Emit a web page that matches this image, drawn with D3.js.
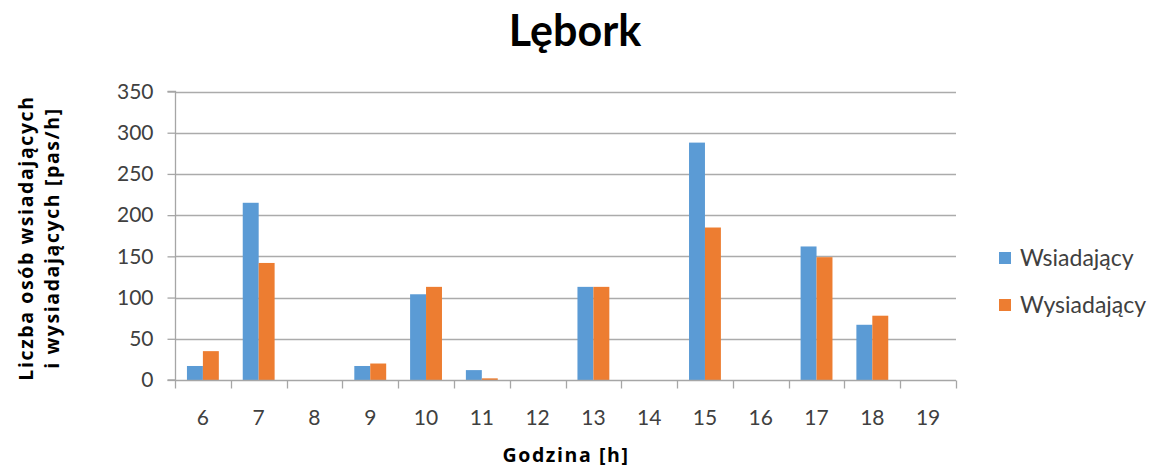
<!DOCTYPE html>
<html><head><meta charset="utf-8">
<script src="https://cdn.jsdelivr.net/npm/d3@7"></script>
<style>body{margin:0;background:#fff}svg{display:block}</style>
</head><body>
<svg id="c" width="1158" height="468"></svg>
<script>
const categories = ["6","7","8","9","10","11","12","13","14","15","16","17","18","19"];
const wsiadajacy = [17,215,0,17,104,12,0,113,0,288,0,162,67,0];
const wysiadajacy = [35,142,0,20,113,2,0,113,0,185,0,149,78,0];
const seriesNames = ["Wsiadający","Wysiadający"];
const colors = ["#5B9BD5","#ED7D31"];
const yTicks = [0,50,100,150,200,250,300,350];

const svg = d3.select("#c");
const font = "Lato, 'Open Sans', sans-serif";
const boldFont = "'Open Sans', Lato, sans-serif";
const L = 175, R = 956, T = 91.5, B = 380;

const x = d3.scaleBand().domain(categories).range([L, R]).paddingInner(0).paddingOuter(0);
const y = d3.scaleLinear().domain([0, 350]).range([B, T]);

// gridlines
svg.append("g").selectAll("line").data(yTicks.filter(d=>d>0)).join("line")
  .attr("x1", L).attr("x2", R).attr("y1", d=>Math.round(y(d))+0.5).attr("y2", d=>Math.round(y(d))+0.5)
  .attr("stroke", "#ababab").attr("stroke-width", 1.3);

// bars
const bw = x.bandwidth()/1.75/2;
const series = [wsiadajacy, wysiadajacy];
series.forEach((vals, si) => {
  svg.append("g").selectAll("rect").data(categories).join("rect")
    .attr("x", (c)=> x(c) + x.bandwidth()/2 - bw + si*bw)
    .attr("width", bw)
    .attr("y", (c,i)=> y(vals[i]))
    .attr("height", (c,i)=> B - y(vals[i]))
    .attr("fill", colors[si]);
});

// y axis
const yAxis = d3.axisLeft(y).tickValues(yTicks).tickSize(8).tickPadding(14);
const gy = svg.append("g").attr("transform", `translate(${L+0.5},0)`).call(yAxis);
gy.select(".domain").attr("stroke","#a6a6a6").attr("stroke-width",1.3).attr("d", `M-8,${B}H0V${T}H-8`);
gy.selectAll(".tick line").attr("stroke","#a6a6a6").attr("stroke-width",1.3);
gy.selectAll(".tick text").attr("font-family", font).attr("font-size", 21).attr("fill","#404040");

// x axis
const xAxis = d3.axisBottom(x).tickSize(0).tickPadding(30);
const gx = svg.append("g").attr("transform", `translate(0,${B+0.5})`).call(xAxis);
gx.select(".domain").attr("stroke","#a6a6a6").attr("stroke-width",1.3).attr("d", `M${L},0H${R}`);
gx.selectAll(".tick text").attr("font-family", font).attr("font-size", 21).attr("fill","#404040");
// category boundary ticks
const bounds = categories.map(c=>x(c)).concat([R]);
gx.append("g").selectAll("line").data(bounds).join("line")
  .attr("x1", d=>Math.round(d)+0.5).attr("x2", d=>Math.round(d)+0.5).attr("y1", 0).attr("y2", 8)
  .attr("stroke","#a6a6a6").attr("stroke-width",1.3);

// title
svg.append("text").attr("x", 575).attr("y", 46).attr("text-anchor","middle")
  .attr("font-family", font).attr("font-weight", "bold").attr("font-size", 43).attr("fill","#000")
  .text("Lębork");

// x title
svg.append("text").attr("x", 566).attr("y", 462).attr("text-anchor","middle")
  .attr("font-family", boldFont).attr("font-weight", "bold").attr("font-size", 19.5)
  .attr("letter-spacing", 1.6).attr("fill","#000")
  .text("Godzina [h]");

// y title
const yt = svg.append("text").attr("transform","translate(0,238) rotate(-90)")
  .attr("text-anchor","middle").attr("font-family", boldFont).attr("font-weight","bold")
  .attr("font-size", 19.5).attr("letter-spacing", 1.6).attr("fill","#000");
yt.append("tspan").attr("x",0).attr("y",33).text("Liczba osób wsiadających");
yt.append("tspan").attr("x",0).attr("y",59).text("i wysiadających [pas/h]");

// legend
const lg = svg.append("g");
seriesNames.forEach((n,i)=>{
  const cy = 258 + i*47;
  lg.append("rect").attr("x", 999).attr("y", cy-6).attr("width", 12).attr("height", 12).attr("fill", colors[i]);
  lg.append("text").attr("x", 1020).attr("y", cy+8).attr("font-family", font).attr("font-size", 23)
    .attr("fill","#404040").text(n);
});
</script>
</body></html>
